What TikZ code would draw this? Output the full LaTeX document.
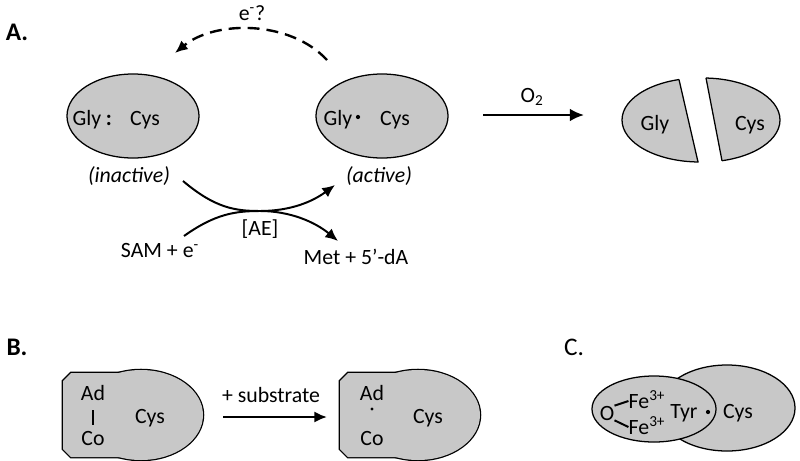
\documentclass[tikz,border=0pt]{standalone}
\usepackage{fontspec}
\setmainfont{Carlito}
\usetikzlibrary{shapes.geometric,arrows.meta}
\definecolor{blobgray}{RGB}{200,200,200}

\begin{document}
\begin{tikzpicture}[x=0.025cm,y=-0.025cm,font=\fontsize{15.5}{18}\selectfont]
  \tikzset{blob/.style = {shape=ellipse,draw,fill=blobgray,line width=0.9pt,inner sep=0pt}}
  \tikzset{txt/.style = {inner sep=0pt,text height=10pt,text depth=0pt}}
  \tikzset{panel/.style = {txt,font=\fontsize{18}{20}\selectfont}}
  \tikzset{dot/.style = {shape=circle,fill,inner sep=0pt,minimum size=3pt}}
  \tikzset{edge/.style = {line width=1.7pt,-{Latex[length=9pt,width=8pt]}}}
  \tikzset{bond/.style = {line width=1.4pt}}
  \useasboundingbox (0,0) rectangle (800,460);

  % A.
  \node[panel] (A) at (17,33) {\bfseries A.};
  \node[blob, minimum width=3.3cm, minimum height=2.1cm] (inact) at (133,116) {};
  \node[blob, minimum width=3.3cm, minimum height=2.1cm] (act) at (382,116) {};
  \node[txt] (gly1) at (87,118) {Gly};
  \node[txt] (colon) at (109,118) {\bfseries :};
  \node[txt] (cys1) at (145,118) {Cys};
  \node[txt] (gly2) at (338,118) {Gly};
  \node[dot] (rad1) at (358,117) {};
  \node[txt] (cys2) at (395,118) {Cys};
  \node[txt] (lab1) at (129,175) {\itshape (inactive)};
  \node[txt] (lab2) at (379,175) {\itshape (active)};

  \coordinate (eS) at (327,60);
  \coordinate (eT) at (175,53);
  \draw[edge, dash pattern=on 8.5pt off 5pt] (eS) .. controls (290,20) and (215,20) .. (eT);
  \node[txt] (eq) at (252,13) {e\textsuperscript{-}?};

  % crossing arrows
  \coordinate (ae) at (260,211);
  \coordinate (in1) at (183,181);
  \coordinate (out1) at (335,185);
  \coordinate (in2) at (184,236);
  \coordinate (out2) at (338,241);
  \draw[edge, line width=1.4pt] (in1) .. controls (215,208) and (235,211) .. (ae)
    .. controls (290,211) and (312,202) .. (out1);
  \draw[edge, line width=1.4pt] (in2) .. controls (215,214) and (235,211) .. (ae)
    .. controls (290,211) and (315,222) .. (out2);
  \node[txt] (AE) at (260,228) {[AE]};
  \node[txt] (sam) at (160,250) {SAM + e\textsuperscript{-}};
  \node[txt] (met) at (356,257) {Met + 5’-dA};

  \coordinate (o2s) at (483,115);
  \coordinate (o2t) at (584,115);
  \draw[edge, -{Latex[length=10pt,width=9pt]}] (o2s) -- (o2t);
  \node[txt] (O2) at (532,95) {O\textsubscript{2}};

  % fragments
  \begin{scope}
    \clip (600,60) -- (674.5,60) -- (702.7,180) -- (600,180) -- cycle;
    \draw[fill=blobgray, line width=0.9pt] (700,120) ellipse [x radius=78, y radius=42];
  \end{scope}
  \begin{scope}
    \clip (702.5,60) -- (800,60) -- (800,180) -- (725.7,180) -- cycle;
    \draw[fill=blobgray, line width=0.9pt] (703,120) ellipse [x radius=77, y radius=42];
  \end{scope}
  \draw[line width=0.9pt] (679,79.6) -- (698,162);
  \draw[line width=0.9pt] (706,78) -- (722,160.7);
  \node[txt] (gly3) at (655,123) {Gly};
  \node[txt] (cys3) at (750,123) {Cys};

  % B.
  \node[panel] (B) at (17,348) {\bfseries B.};
  \foreach \dx in {0,277} {
    \draw[line width=1.8pt] (63+\dx,381) -- (71+\dx,373) -- (150+\dx,373) -- (150+\dx,457)
      -- (71+\dx,457) -- (63+\dx,449) -- cycle;
    \draw[line width=1.8pt] (141+\dx,415) ellipse [x radius=62, y radius=45];
    \fill[blobgray] (63+\dx,381) -- (71+\dx,373) -- (150+\dx,373) -- (150+\dx,457)
      -- (71+\dx,457) -- (63+\dx,449) -- cycle;
    \fill[blobgray] (141+\dx,415) ellipse [x radius=62, y radius=45];
  }
  \node[txt] (ad1) at (93,393) {Ad};
  \node[txt] (co1) at (93,438) {Co};
  \draw[bond, line width=2pt, shorten <=7pt, shorten >=4pt] (ad1) -- (co1);
  \node[txt] (cys4) at (150,416) {Cys};
  \coordinate (s1) at (223,417);
  \coordinate (s2) at (327,417);
  \draw[edge] (s1) -- (s2);
  \node[txt] (sub) at (271,395) {+ substrate};
  \node[txt] (ad2) at (372,393) {Ad};
  \node[dot, minimum size=2.2pt] (rad2) at (372,409) {};
  \node[txt] (co2) at (372,438) {Co};
  \node[txt] (cys5) at (428,416) {Cys};

  % C.
  \node[panel] (C) at (574,348) {C.};
  \node[blob, minimum width=3.4cm, minimum height=2.15cm] (cysC) at (727,408) {};
  \node[blob, minimum width=3.1cm, minimum height=1.65cm] (tyrC) at (654,409) {};
  \node[txt] (O) at (607,413) {O};
  \node[txt] (fe1) at (647,401) {Fe\textsuperscript{3+}};
  \node[txt] (fe2) at (647,427) {Fe\textsuperscript{3+}};
  \draw[bond] (O.north east) -- (fe1.west);
  \draw[bond] (O.south east) -- (fe2.west);
  \node[txt] (tyr) at (684,411) {Tyr};
  \node[dot] (rad3) at (708,412) {};
  \node[txt] (cys6) at (738,411) {Cys};
\end{tikzpicture}
\end{document}
